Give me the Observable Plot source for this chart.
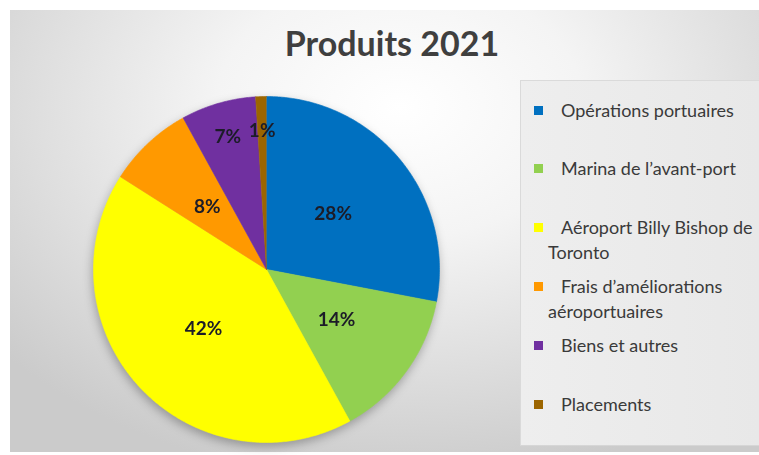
<!DOCTYPE html>
<html><head><meta charset="utf-8">
<script src="https://cdn.jsdelivr.net/npm/d3@7"></script>
<script src="https://cdn.jsdelivr.net/npm/@observablehq/plot@0.6"></script>
<style>
html,body{margin:0;padding:0;background:#fff;}
#wrap{position:relative;width:759px;height:455px;overflow:hidden;font-family:Lato,"Open Sans",sans-serif;}
#bg{position:absolute;left:10px;top:10px;width:749px;height:442px;
  background:radial-gradient(ellipse 70% 85% at 52% 22%, #ffffff 0%, #f4f4f4 35%, #dedede 70%, #cbcbcb 100%);}
#title{position:absolute;left:10px;width:764px;top:22px;text-align:center;font-weight:bold;font-size:34px;line-height:42px;color:#3f3f3f;}
#legend{position:absolute;left:520px;top:80px;width:239px;height:366px;
  background:linear-gradient(90deg,#eeeeee,#e8e8e8);border-left:1px solid #dadada;border-top:1px solid #dadada;border-bottom:1px solid #d6d6d6;box-sizing:border-box;}
.item{position:absolute;left:27px;width:210px;font-size:18px;line-height:25px;color:#3a3a3a;text-indent:13px;}
.sw{position:absolute;left:-14px;top:8px;width:9px;height:9px;}
#plot{position:absolute;left:86px;top:89px;filter:drop-shadow(-1px 4px 5px rgba(0,0,0,0.28));}
</style></head>
<body>
<div id="wrap">
  <div id="bg"></div>
  <div id="title"></div>
  <div id="plot"></div>
  <div id="legend"></div>
</div>
<script>
const title = "Produits 2021";
const categories = ["Opérations portuaires","Marina de l’avant-port","Aéroport Billy Bishop de Toronto","Frais d’améliorations aéroportuaires","Biens et autres","Placements"];
const shares = [28, 14, 42, 8, 7, 1];
const labels = ["28%", "14%", "42%", "8%", "7%", "1%"];
const colors = ["#0070C0", "#92D050", "#FFFF00", "#FF9900", "#7030A0", "#9C6500"];

document.getElementById("title").textContent = title;

const data = categories.map((name, i) => ({name, value: shares[i], label: labels[i]}));
const arcs = d3.pie().sort(null).value(d => d.value)(data);

// polygon points for each slice (centre + sampled arc), in unit-radius data space
const arcPts = [];
for (const a of arcs) {
  const n = Math.max(2, Math.ceil((a.endAngle - a.startAngle) / 0.01));
  arcPts.push({name: a.data.name, x: 0, y: 0});
  for (let k = 0; k <= n; k++) {
    const t = a.startAngle + (a.endAngle - a.startAngle) * k / n;
    arcPts.push({name: a.data.name, x: Math.sin(t), y: Math.cos(t)});
  }
}
const lbl = arcs.map(a => {
  const m = (a.startAngle + a.endAngle) / 2;
  const r = a.data.value <= 7 ? 0.8 : 0.5;
  return {text: a.data.label, x: r * Math.sin(m), y: r * Math.cos(m)};
});

const D = 180 / 173;
const chart = Plot.plot({
  width: 360, height: 360, margin: 0,
  x: {domain: [-D, D], axis: null},
  y: {domain: [-D, D], axis: null},
  color: {domain: categories, range: colors},
  style: {background: "transparent", overflow: "visible"},
  marks: [
    Plot.line(arcPts, {x: "x", y: "y", z: "name", fill: "name", stroke: "name", strokeWidth: 0.6, curve: "linear"}),
    Plot.text(lbl, {x: "x", y: "y", text: "text", fill: "#1c1c28", fontSize: 19, fontWeight: "bold", fontFamily: "Lato, 'Open Sans', sans-serif"})
  ]
});
document.getElementById("plot").appendChild(chart);

const legend = document.getElementById("legend");
categories.forEach((c, i) => {
  const it = document.createElement("div");
  it.className = "item";
  it.style.top = (16.5 + i * 58.8) + "px";
  const sw = document.createElement("span");
  sw.className = "sw";
  sw.style.background = colors[i];
  it.appendChild(sw);
  it.appendChild(document.createTextNode(c));
  legend.appendChild(it);
});
</script>
</body></html>
